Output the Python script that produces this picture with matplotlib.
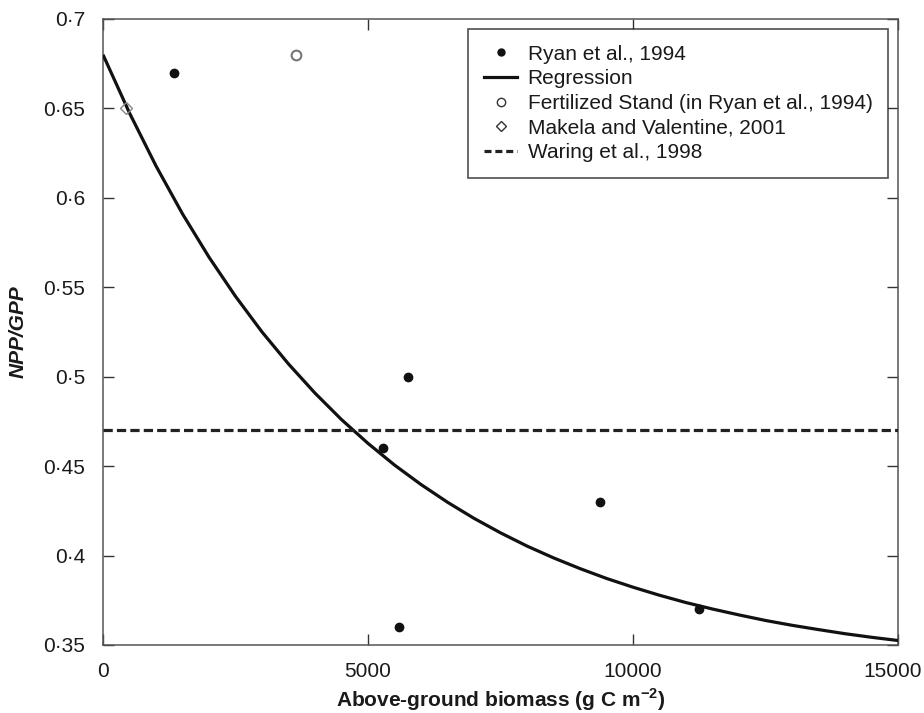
import matplotlib
matplotlib.use("Agg")
import matplotlib.pyplot as plt
import matplotlib.transforms as mtransforms
from matplotlib.ticker import FuncFormatter
from matplotlib.lines import Line2D

plt.rcParams['font.family'] = ['Liberation Sans', 'DejaVu Sans']
plt.rcParams['mathtext.fontset'] = 'custom'
plt.rcParams['mathtext.rm'] = 'Liberation Sans'
plt.rcParams['mathtext.bf'] = 'Liberation Sans:bold'

# Ryan et al., 1994 observations
ryan_x = [1330, 5280, 5590, 5760, 9380, 11250]
ryan_y = [0.67, 0.46, 0.36, 0.50, 0.43, 0.37]

# Fertilized stand
fert_x = [3650]
fert_y = [0.68]

# Makela and Valentine, 2001
mak_x = [430]
mak_y = [0.65]

# Regression curve
reg_x = [0, 500, 1000, 1500, 2000, 2500, 3000, 3500, 4000, 4500, 5000, 5500,
         6000, 6500, 7000, 7500, 8000, 8500, 9000, 9500, 10000, 10500, 11000,
         11500, 12000, 12500, 13000, 13500, 14000, 14500, 15000]
reg_y = [0.6800, 0.6474, 0.6178, 0.5910, 0.5668, 0.5449, 0.5250, 0.5071,
         0.4908, 0.4760, 0.4627, 0.4506, 0.4397, 0.4298, 0.4208, 0.4127,
         0.4053, 0.3987, 0.3927, 0.3872, 0.3823, 0.3778, 0.3737, 0.3701,
         0.3668, 0.3637, 0.3610, 0.3586, 0.3563, 0.3543, 0.3525]

# Waring et al., 1998 constant
waring_x = [0, 15000]
waring_y = [0.47, 0.47]

x_ticks = [0, 5000, 10000, 15000]
y_ticks = [0.35, 0.40, 0.45, 0.50, 0.55, 0.60, 0.65, 0.70]

fig = plt.figure(figsize=(9.24, 7.13), dpi=100)
ax = fig.add_axes([0.1115, 0.0954, 0.8604, 0.878])

ax.plot(reg_x, reg_y, color='#111111', lw=2.3, solid_capstyle='butt', zorder=3)
ax.plot(waring_x, waring_y, color='#222222', lw=2.3, dashes=(2.9, 1.3), zorder=3)
ax.plot(ryan_x, ryan_y, 'o', color='#111111', ms=6, zorder=4, clip_on=False)
ax.plot(fert_x, fert_y, 'o', mfc='white', mec='#777777', mew=1.5, ms=7, zorder=4)
ax.plot(mak_x, mak_y, 'D', mfc='none', mec='#888888', mew=1.0, ms=6, zorder=4)

ax.set_xlim(0, 15000)
ax.set_ylim(0.35, 0.70)
ax.set_xticks(x_ticks)
ax.set_yticks(y_ticks)
ax.xaxis.set_major_formatter(FuncFormatter(lambda v, p: f"{int(round(v))}"))

def yfmt(v, p):
    s = f"{v:.2f}".rstrip('0')
    return s.replace('.', '·')
ax.yaxis.set_major_formatter(FuncFormatter(yfmt))

ax.tick_params(direction='in', length=8, width=1, top=True, right=True,
               labelsize=15, colors='#333333', labelcolor='#1a1a1a')
ax.tick_params(axis='y', pad=13)
ax.tick_params(axis='x', pad=12)
for sp in ax.spines.values():
    sp.set_color('#555555')
    sp.set_linewidth(1.1)

# nudge the last x tick label so it stays inside the figure
fig.canvas.draw()
lbls = ax.get_xticklabels()
lbls[-1].set_transform(lbls[-1].get_transform() +
                       mtransforms.ScaledTranslation(-5 / 100, 0, fig.dpi_scale_trans))

ax.set_xlabel(r'Above-ground biomass (g C m$^{\mathbf{-2}}$)', fontsize=15,
              fontweight='bold', color='#1a1a1a', labelpad=4)
ax.set_ylabel('NPP/GPP', fontsize=15, fontweight='bold', style='italic',
              color='#1a1a1a', labelpad=11)

handles = [
    Line2D([], [], ls='none', marker='o', color='#111111', ms=5),
    Line2D([], [], color='#111111', lw=2.3),
    Line2D([], [], ls='none', marker='o', mfc='white', mec='#333333', mew=1.0, ms=6),
    Line2D([], [], ls='none', marker='D', mfc='none', mec='#333333', mew=1.0, ms=5.5),
    Line2D([], [], color='#222222', lw=2.3, dashes=(2.2, 1.2)),
]
labels = ['Ryan et al., 1994', 'Regression', 'Fertilized Stand (in Ryan et al., 1994)',
          'Makela and Valentine, 2001', 'Waring et al., 1998']
leg = ax.legend(handles, labels, loc='upper right', bbox_to_anchor=(0.9875, 0.984),
                fontsize=15, frameon=True, fancybox=False, handlelength=1.6,
                handletextpad=0.5, labelspacing=0.27, borderpad=0.75,
                borderaxespad=0)
leg.get_frame().set_edgecolor('#222222')
leg.get_frame().set_linewidth(1.2)
for t in leg.get_texts():
    t.set_color('#1a1a1a')

fig.savefig('out.png', dpi=100)
